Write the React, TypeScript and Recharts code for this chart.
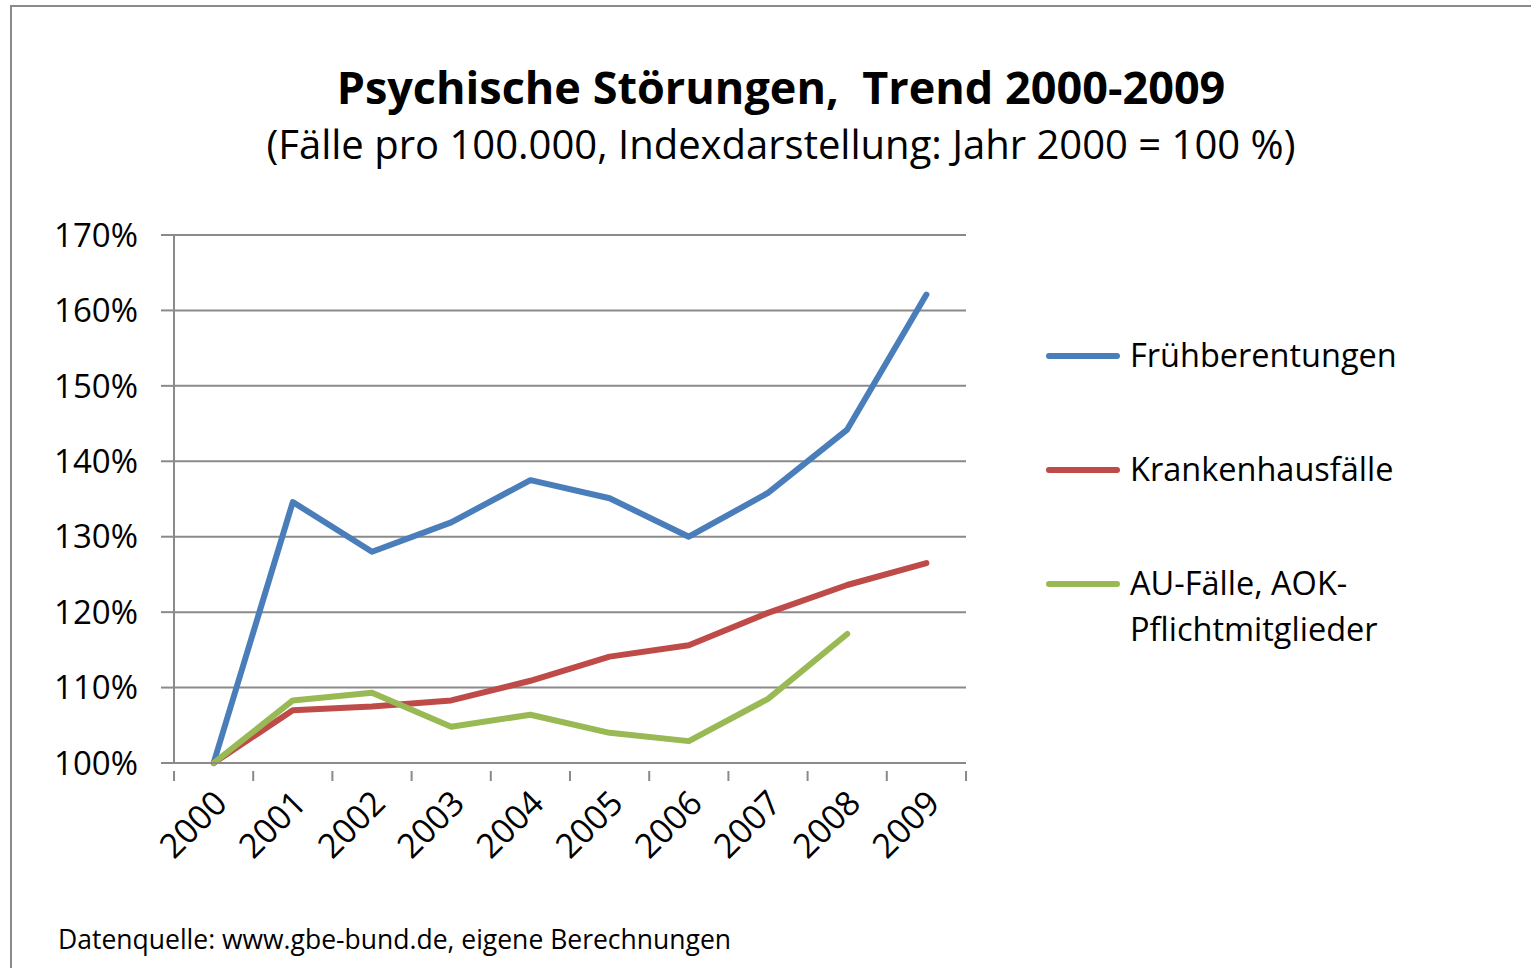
import React from 'react';
import { LineChart, Line, XAxis, YAxis, CartesianGrid } from 'recharts';

const years = ['2000', '2001', '2002', '2003', '2004', '2005', '2006', '2007', '2008', '2009'];
const fruehberentungen = [100, 134.6, 128.0, 131.9, 137.5, 135.1, 130.0, 135.8, 144.2, 162.1];
const krankenhausfaelle = [100, 107.0, 107.5, 108.3, 110.9, 114.1, 115.6, 119.9, 123.6, 126.5];
const auFaelle = [100, 108.3, 109.3, 104.8, 106.4, 104.0, 102.9, 108.5, 117.1, null];
const yTicks = [100, 110, 120, 130, 140, 150, 160, 170];

const series = [
  { key: 'fb', name: 'Frühberentungen', color: '#4a7ebb', values: fruehberentungen },
  { key: 'kh', name: 'Krankenhausfälle', color: '#be4b48', values: krankenhausfaelle },
  { key: 'au', name: 'AU-Fälle, AOK-\nPflichtmitglieder', color: '#98b954', values: auFaelle },
];

const data = years.map((year, i) => {
  const row: Record<string, any> = { year };
  series.forEach((s) => {
    row[s.key] = s.values[i];
  });
  return row;
});

const FONT = '"Open Sans", Lato, sans-serif';
const CHART_W = 1000;
const CHART_H = 900;
const MARGIN = { top: 235, right: 34, bottom: 37, left: 54 };
const Y_AXIS_W = 120;
const X_AXIS_H = 100;
const PLOT_W = CHART_W - MARGIN.left - Y_AXIS_W - MARGIN.right;
const HALF_BAND = PLOT_W / years.length / 2;
const GRID = '#8a8a8a';

const YearTick = ({ x, y, payload, index }: any) => {
  const last = index === years.length - 1;
  const tx = x - 5;
  const ty = y + 14;
  return (
    <g>
      <line x1={x - HALF_BAND} x2={x - HALF_BAND} y1={y} y2={y + 10} stroke={GRID} strokeWidth={2} />
      {last && <line x1={x + HALF_BAND} x2={x + HALF_BAND} y1={y} y2={y + 10} stroke={GRID} strokeWidth={2} />}
      <text
        x={tx}
        y={ty}
        transform={`rotate(-45, ${tx}, ${ty})`}
        textAnchor="end"
        fontSize={34}
        fontFamily={FONT}
        fill="#000"
        dominantBaseline="hanging"
      >
        {payload.value}
      </text>
    </g>
  );
};

export default function App() {
  return (
    <div style={{ position: 'absolute', left: 0, top: 0, width: 1531, height: 968, background: '#fff', overflow: 'hidden', fontFamily: FONT }}>
      <div style={{ position: 'absolute', left: 10, top: 5, width: 1600, height: 1000, borderTop: '2px solid #8a8a8a', borderLeft: '2px solid #8a8a8a' }} />
      <div style={{ position: 'absolute', left: 0, width: 1562, top: 58, textAlign: 'center', fontSize: 45, fontWeight: 700, color: '#000', lineHeight: '58px' }}>
        Psychische Störungen,&nbsp; Trend 2000-2009
      </div>
      <div style={{ position: 'absolute', left: 0, width: 1562, top: 118, textAlign: 'center', fontSize: 40, color: '#000', lineHeight: '52px' }}>
        (Fälle pro 100.000, Indexdarstellung: Jahr 2000 = 100 %)
      </div>

      <div style={{ position: 'absolute', left: 0, top: 0 }}>
        <LineChart width={CHART_W} height={CHART_H} data={data} margin={MARGIN}>
          <CartesianGrid vertical={false} stroke={GRID} strokeWidth={2} />
          <XAxis
            dataKey="year"
            height={X_AXIS_H}
            padding={{ left: HALF_BAND, right: HALF_BAND }}
            axisLine={{ stroke: GRID, strokeWidth: 2 }}
            tickLine={false}
            tick={<YearTick />}
            interval={0}
          />
          <YAxis
            width={Y_AXIS_W}
            domain={[100, 170]}
            ticks={yTicks}
            tickFormatter={(v) => `${v}%`}
            axisLine={{ stroke: GRID, strokeWidth: 2 }}
            tickLine={{ stroke: GRID, strokeWidth: 2 }}
            tickSize={13}
            tickMargin={23}
            tick={{ fontSize: 33, fontFamily: FONT, fill: '#000' }}
          />
          {series.map((s) => (
            <Line
              key={s.key}
              dataKey={s.key}
              name={s.name}
              stroke={s.color}
              strokeWidth={6}
              strokeLinecap="round"
              strokeLinejoin="round"
              dot={false}
              activeDot={false}
              connectNulls={false}
              isAnimationActive={false}
            />
          ))}
        </LineChart>
      </div>

      <div style={{ position: 'absolute', left: 1046, top: 332 }}>
        {series.map((s) => (
          <div key={s.key} style={{ display: 'flex', alignItems: 'flex-start', height: 114 }}>
            <div style={{ width: 74, height: 6, borderRadius: 3, background: s.color, marginTop: 21, marginRight: 10 }} />
            <div style={{ fontSize: 32.5, lineHeight: '46px', whiteSpace: 'pre', color: '#000' }}>{s.name}</div>
          </div>
        ))}
      </div>

      <div style={{ position: 'absolute', left: 58, top: 920, fontSize: 26.5, color: '#000', lineHeight: '38px' }}>
        Datenquelle: www.gbe-bund.de, eigene Berechnungen
      </div>
    </div>
  );
}
